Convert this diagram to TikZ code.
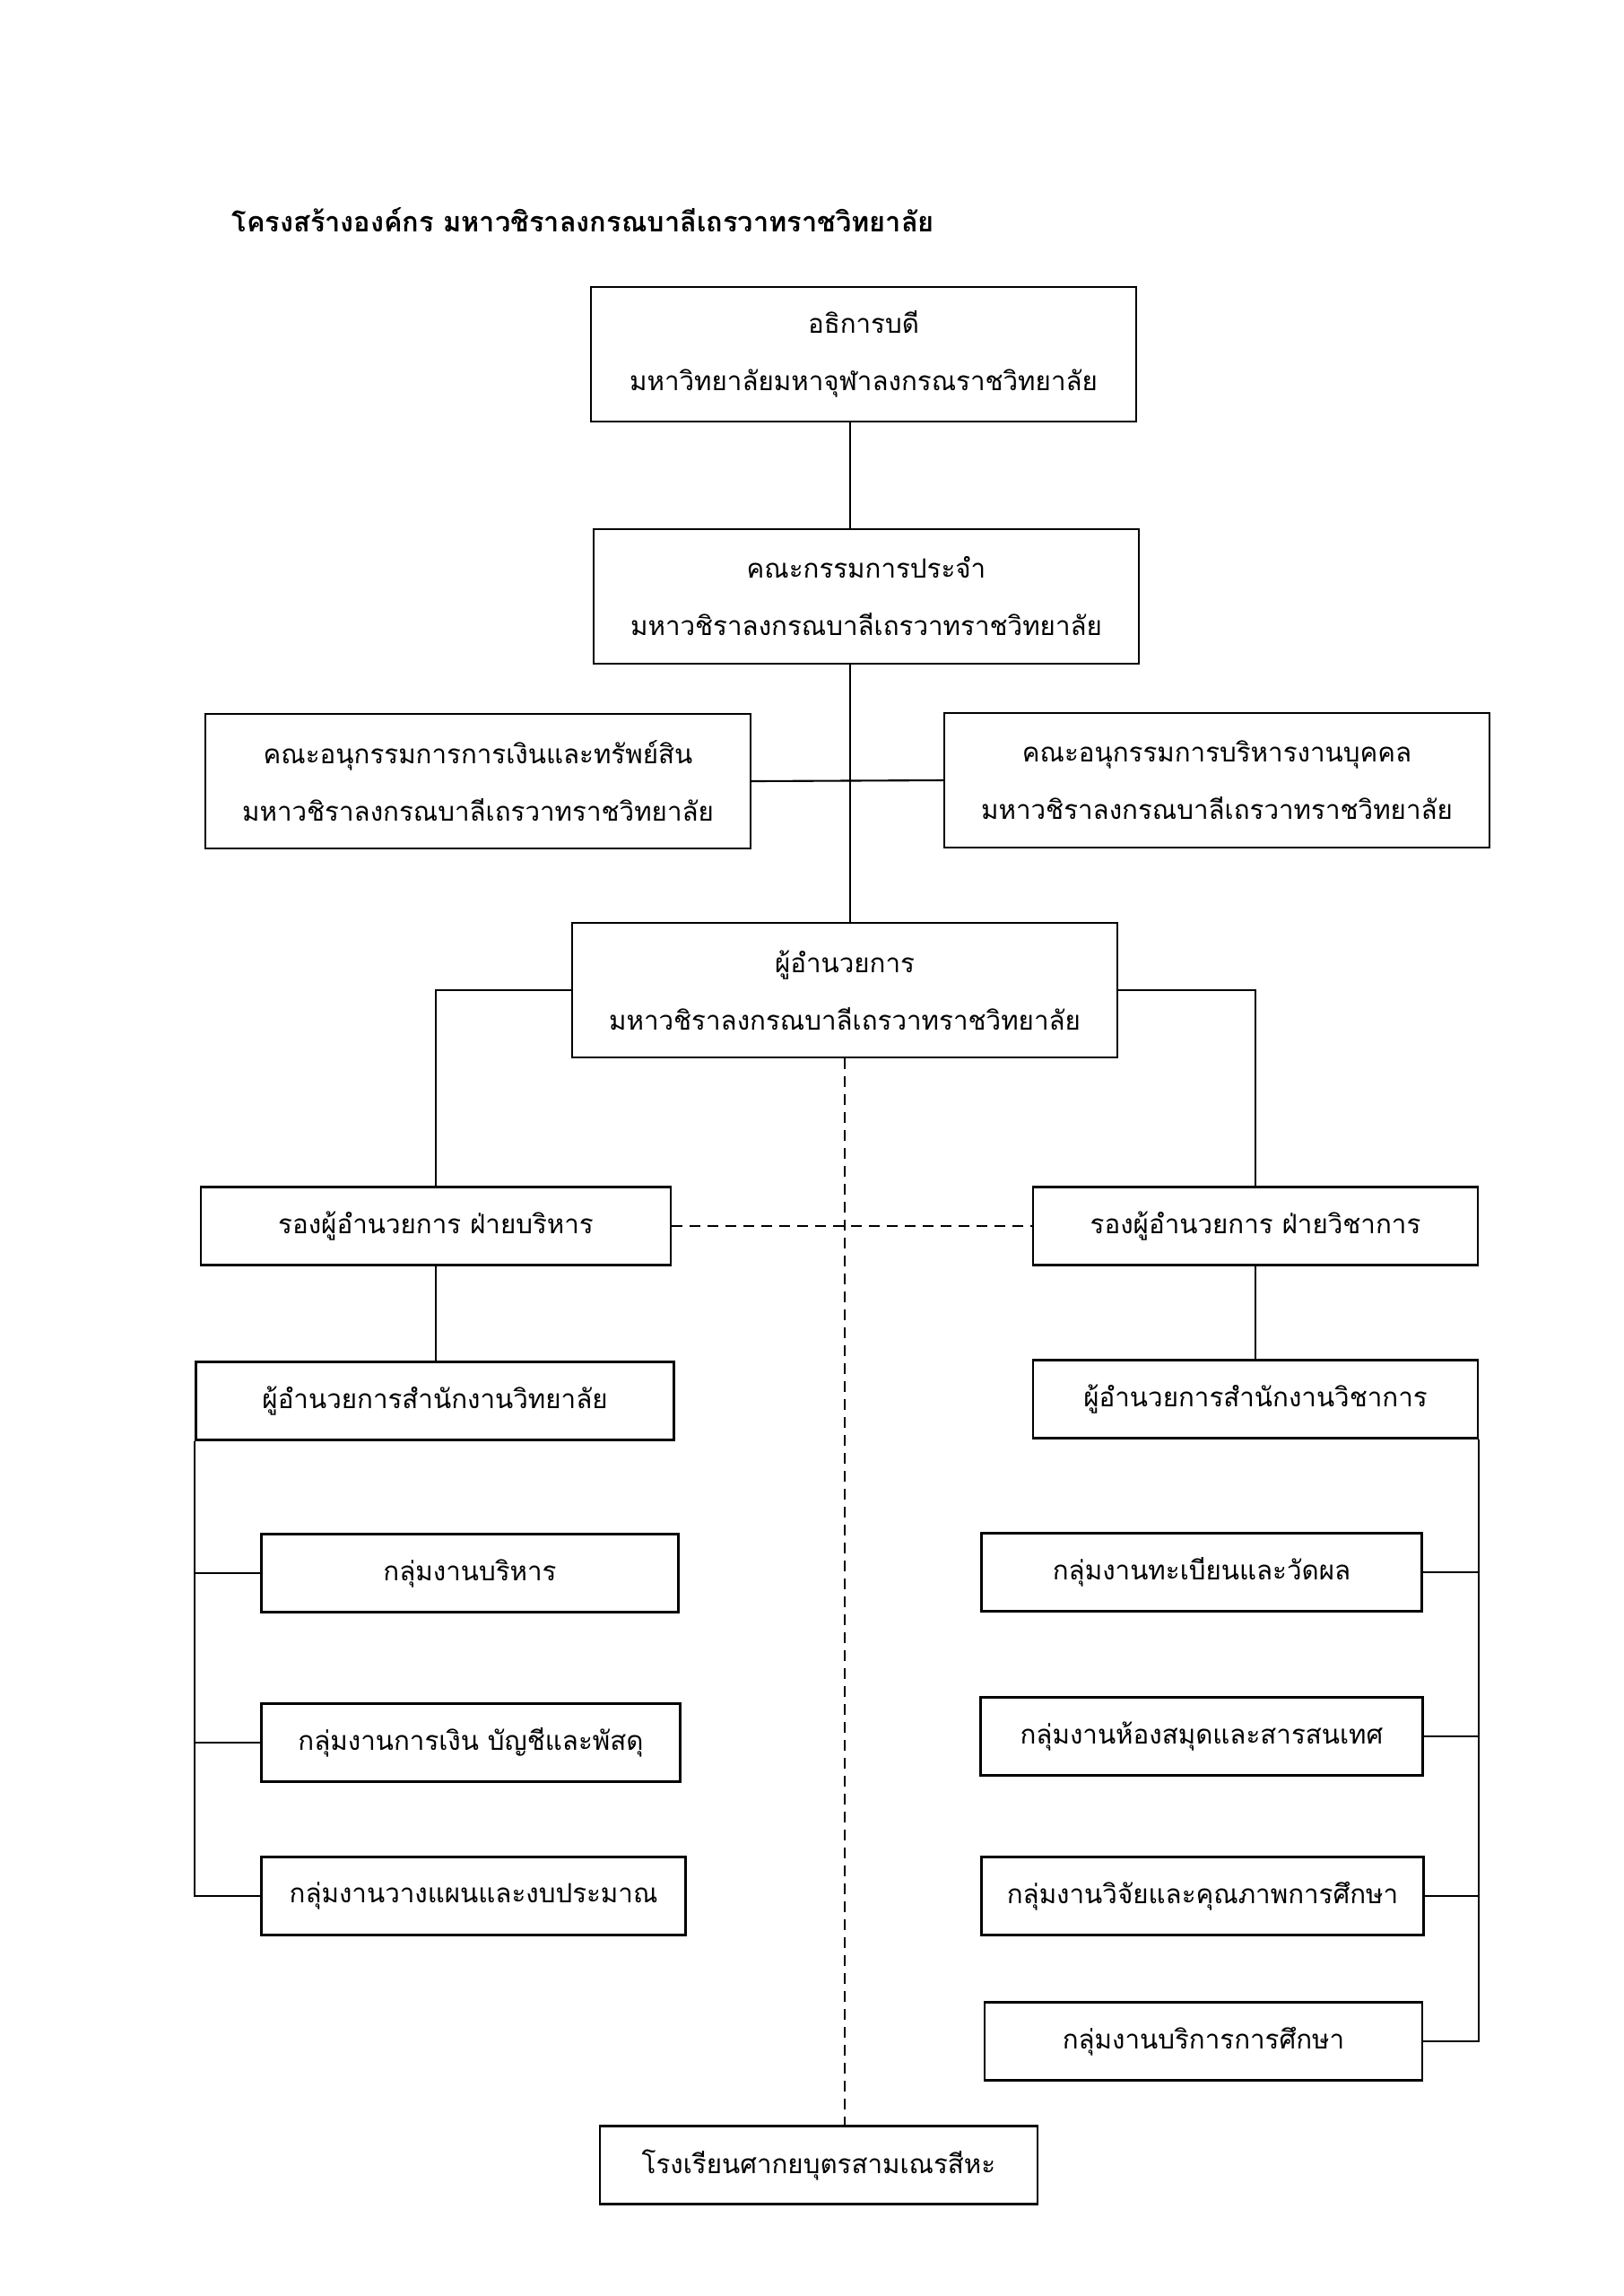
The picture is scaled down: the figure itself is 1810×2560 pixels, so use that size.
\documentclass[tikz,border=0pt]{standalone}
\usepackage{fontspec}
\newfontfamily\thaifont[Script=Thai]{Loma}
\newcommand{\Body}{\thaifont\fontsize{8.4}{18.2}\selectfont}
\newcommand{\Head}{\thaifont\bfseries\fontsize{8.75}{10}\selectfont}
\tikzset{
  post/.style={draw, line width=0.7pt, align=center, font=\Body, inner sep=0pt, minimum width=60.8mm, minimum height=15mm},
  unit/.style={draw, line width=0.7pt, align=center, font=\Body, inner sep=0pt, minimum height=8.7mm},
  tie/.style={line width=0.6pt},
  loose/.style={line width=0.6pt, dash pattern=on 1.2mm off 0.8mm},
}
\begin{document}
\begin{tikzpicture}[x=0.1mm, y=-0.1mm]
    \useasboundingbox (0,0) rectangle (1810,2560);
    \node[font=\Head, anchor=west, inner sep=0pt] (title) at (258,245) {โครงสร้างองค์กร มหาวชิราลงกรณบาลีเถรวาทราชวิทยาลัย};
    % top of the chart
    \node[post] (rector) at (963,395)  {อธิการบดี\\มหาวิทยาลัยมหาจุฬาลงกรณราชวิทยาลัย};
    \node[post] (board)  at (966,665)  {คณะกรรมการประจำ\\มหาวชิราลงกรณบาลีเถรวาทราชวิทยาลัย};
    \node[post] (finc)   at (533,871)  {คณะอนุกรรมการการเงินและทรัพย์สิน\\มหาวชิราลงกรณบาลีเถรวาทราชวิทยาลัย};
    \node[post] (hrc)    at (1357,870) {คณะอนุกรรมการบริหารงานบุคคล\\มหาวชิราลงกรณบาลีเถรวาทราชวิทยาลัย};
    \node[post] (dir)    at (942,1104) {ผู้อำนวยการ\\มหาวชิราลงกรณบาลีเถรวาทราชวิทยาลัย};
    % deputies and offices
    \node[unit, minimum width=52.4mm] (vadm) at (486,1367)  {รองผู้อำนวยการ ฝ่ายบริหาร};
    \node[unit, minimum width=49.6mm] (vacd) at (1400,1367) {รองผู้อำนวยการ ฝ่ายวิชาการ};
    \node[unit, minimum width=53.3mm] (offc) at (485,1562)  {ผู้อำนวยการสำนักงานวิทยาลัย};
    \node[unit, minimum width=49.6mm] (acad) at (1400,1560) {ผู้อำนวยการสำนักงานวิชาการ};
    % work groups
    \node[unit, minimum width=46.5mm] (g1) at (524,1754) {กลุ่มงานบริหาร};
    \node[unit, minimum width=46.7mm] (g2) at (525,1943) {กลุ่มงานการเงิน บัญชีและพัสดุ};
    \node[unit, minimum width=47.3mm] (g3) at (528,2114) {กลุ่มงานวางแผนและงบประมาณ};
    \node[unit, minimum width=49.1mm] (a1) at (1340,1753) {กลุ่มงานทะเบียนและวัดผล};
    \node[unit, minimum width=49.3mm] (a2) at (1340,1936) {กลุ่มงานห้องสมุดและสารสนเทศ};
    \node[unit, minimum width=49.3mm] (a3) at (1341,2114) {กลุ่มงานวิจัยและคุณภาพการศึกษา};
    \node[unit, minimum width=48.8mm] (a4) at (1342,2276) {กลุ่มงานบริการการศึกษา};
    \node[unit, minimum width=48.8mm] (school) at (913,2414) {โรงเรียนศากยบุตรสามเณรสีหะ};
    \coordinate (axis) at (948,0);
    \draw[tie] (rector.south -| axis) -- (board.north -| axis);
    \draw[tie] (board.south -| axis) -- (dir.north -| axis);
    \draw[tie] (finc.east) -- (hrc.west);
    \draw[tie] (dir.west) -| (vadm.north);
    \draw[tie] (dir.east) -| (vacd.north);
    \draw[tie] (vadm.south) -- (offc.north -| vadm.south);
    \draw[tie] (vacd.south) -- (acad.north -| vacd.south);
    \draw[loose] (vadm.east) -- (vacd.west);
    \draw[loose] (dir.south) -- (dir.south |- school.north);
    \foreach \g in {g1,g2,g3}
      \draw[tie] (offc.south west) |- (\g.west);
    \foreach \g in {a1,a2,a3,a4}
      \draw[tie] (acad.south east) |- (\g.east);
\end{tikzpicture}
\end{document}
